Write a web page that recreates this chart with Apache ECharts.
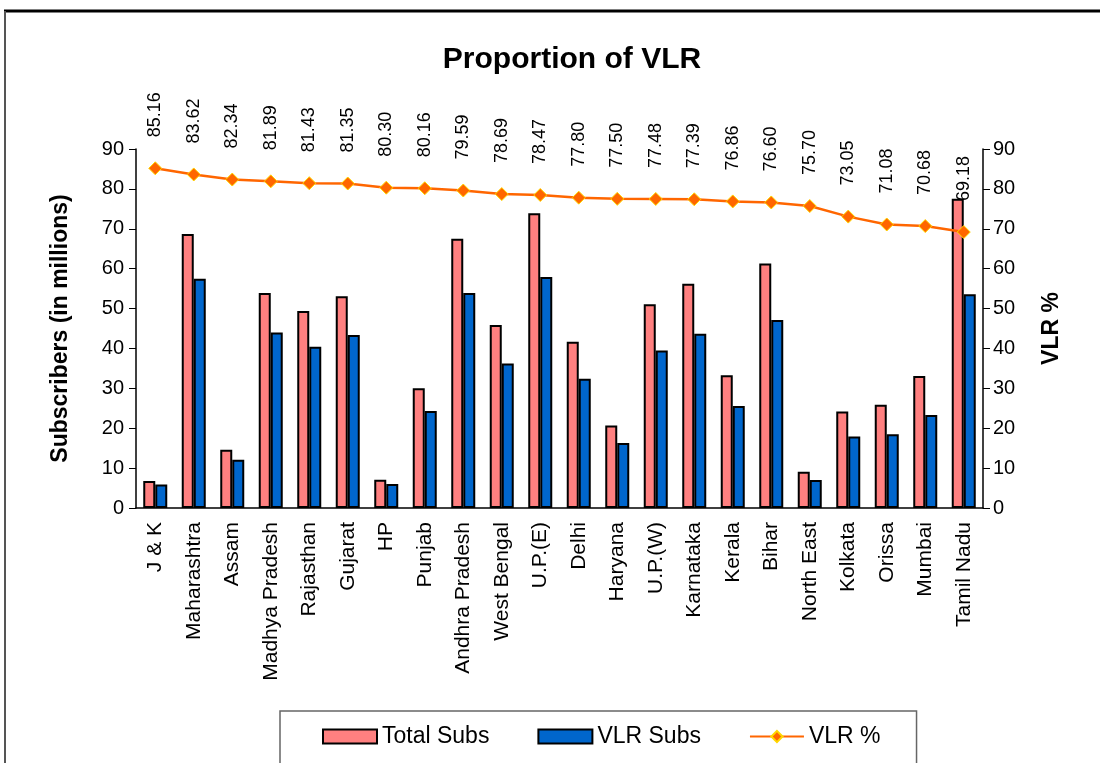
<!DOCTYPE html>
<html>
<head>
<meta charset="utf-8">
<script src="https://cdn.jsdelivr.net/npm/echarts@6/dist/echarts.min.js"></script>
<style>
html,body{margin:0;padding:0;background:#fff;}
#chart{width:1100px;height:763px;}
</style>
</head>
<body>
<div id="chart"></div>
<script>
const categories = ["J & K","Maharashtra","Assam","Madhya Pradesh","Rajasthan","Gujarat","HP","Punjab","Andhra Pradesh","West Bengal","U.P.(E)","Delhi","Haryana","U.P.(W)","Karnataka","Kerala","Bihar","North East","Kolkata","Orissa","Mumbai","Tamil Nadu"];
const totalSubs = [6.8,68.7,14.6,53.9,49.4,53.1,7.1,30.0,67.5,45.9,73.9,41.7,20.7,51.1,56.2,33.3,61.3,9.1,24.2,25.9,33.1,77.5];
const vlrSubs = [5.9,57.5,12.1,44.0,40.4,43.4,6.0,24.3,53.9,36.2,57.9,32.4,16.3,39.5,43.7,25.6,47.1,7.0,17.9,18.5,23.3,53.6];
const vlrPct = [85.16,83.62,82.34,81.89,81.43,81.35,80.30,80.16,79.59,78.69,78.47,77.80,77.50,77.48,77.39,76.86,76.60,75.70,73.05,71.08,70.68,69.18];

const chart = echarts.init(document.getElementById('chart'));
const FONT = 'Liberation Sans, Arial, sans-serif';
chart.setOption({
  animation: false,
  textStyle: {fontFamily: FONT, color: '#000'},
  graphic: [
    {type:'line', shape:{x1:4,y1:11,x2:1100,y2:11}, style:{stroke:'#000', lineWidth:3}},
    {type:'line', shape:{x1:5,y1:11,x2:5,y2:763}, style:{stroke:'#555', lineWidth:2}}
  ],
  title: {
    text: 'Proportion of VLR', left: 567, top: 40, textAlign: 'center',
    textStyle: {fontFamily: FONT, fontSize: 30, fontWeight: 'bold', color: '#000'}
  },
  legend: {
    left: 280, top: 711,
    padding: [14, 36, 24, 42],
    borderColor: '#666', borderWidth: 1.5,
    itemGap: 48, itemWidth: 54, itemHeight: 14,
    textStyle: {fontFamily: FONT, fontSize: 23, color: '#000'},
    data: [
      {name: 'Total Subs', icon: 'rect'},
      {name: 'VLR Subs', icon: 'rect'},
      {name: 'VLR %'}
    ]
  },
  grid: {left: 136, right: 117, top: 149, bottom: 255},
  xAxis: {
    type: 'category', data: categories,
    axisLine: {lineStyle: {color: '#000', width: 1.5}},
    axisTick: {length: 6, lineStyle: {color: '#000'}},
    axisLabel: {rotate: 90, fontSize: 21, color: '#000', margin: 14, interval: 0, fontFamily: FONT}
  },
  yAxis: [
    {
      type: 'value', min: 0, max: 90, interval: 10,
      name: 'Subscribers (in millions)', nameLocation: 'middle', nameGap: 64, nameRotate: 90,
      nameTextStyle: {fontSize: 23, fontWeight: 'bold', fontFamily: FONT, color: '#000'},
      axisLine: {show: true, lineStyle: {color: '#000', width: 1.5}},
      axisTick: {show: true, length: 7, lineStyle: {color: '#000'}},
      axisLabel: {fontSize: 20, color: '#000', margin: 12, fontFamily: FONT},
      splitLine: {show: false}
    },
    {
      type: 'value', min: 0, max: 90, interval: 10, position: 'right',
      name: 'VLR %', nameLocation: 'middle', nameGap: 57, nameRotate: 90,
      nameTextStyle: {fontSize: 23, fontWeight: 'bold', fontFamily: FONT, color: '#000'},
      axisLine: {show: true, lineStyle: {color: '#000', width: 1.5}},
      axisTick: {show: true, length: 7, lineStyle: {color: '#000'}},
      axisLabel: {fontSize: 20, color: '#000', margin: 10, fontFamily: FONT},
      splitLine: {show: false}
    }
  ],
  series: [
    {
      name: 'Total Subs', type: 'bar', data: totalSubs, barWidth: 12, barGap: '0%',
      itemStyle: {color: '#FF8080', borderColor: '#000', borderWidth: 2}
    },
    {
      name: 'VLR Subs', type: 'bar', data: vlrSubs, barWidth: 12,
      itemStyle: {color: '#0066CC', borderColor: '#000', borderWidth: 2}
    },
    {
      name: 'VLR %', type: 'line', yAxisIndex: 1, data: vlrPct, z: 5,
      symbol: 'diamond', symbolSize: 13,
      lineStyle: {color: '#FF6600', width: 2.5},
      itemStyle: {color: '#FF6600', borderColor: '#FFD700', borderWidth: 1},
      label: {
        show: true, position: 'top', distance: 24, rotate: 90,
        align: 'left', verticalAlign: 'middle',
        fontSize: 18, color: '#000', fontFamily: FONT,
        formatter: p => p.value.toFixed(2)
      }
    }
  ]
});
</script>
</body>
</html>
